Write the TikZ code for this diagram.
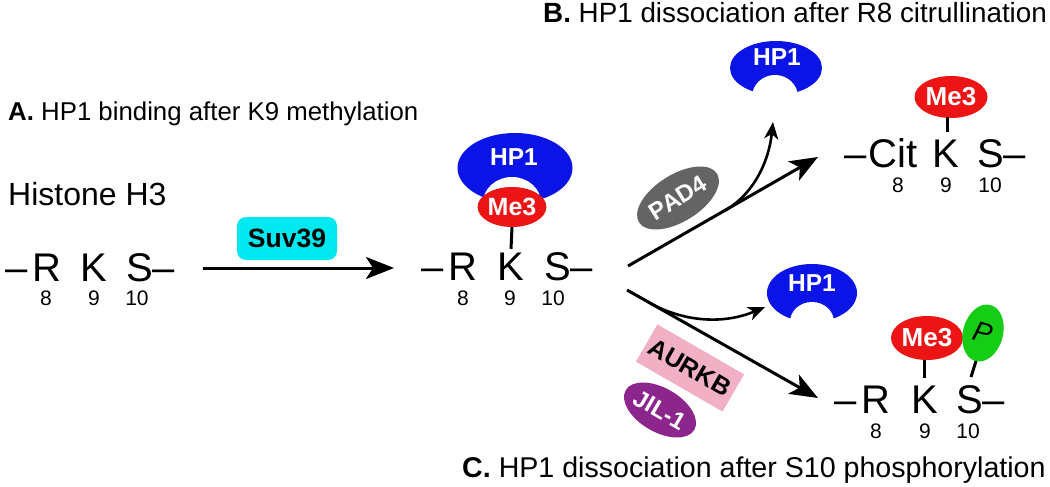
\documentclass[tikz,border=0pt]{standalone}
\usepackage{fontspec}
\setmainfont{Liberation Sans}
\usetikzlibrary{shapes.geometric,arrows.meta}
\definecolor{hpblue}{RGB}{10,20,230}
\definecolor{mered}{RGB}{236,20,20}
\definecolor{suvcyan}{RGB}{0,232,240}
\definecolor{padgray}{RGB}{100,100,100}
\definecolor{aurpink}{RGB}{242,176,196}
\definecolor{jilpurple}{RGB}{140,38,140}
\definecolor{pgreen}{RGB}{20,205,20}
\tikzset{
  res/.style={inner sep=0pt, font=\fontsize{40}{46}\selectfont},
  num/.style={inner sep=0pt, anchor=base, font=\fontsize{21}{25}\selectfont},
  title/.style={inner sep=0pt, anchor=base west, font=\fontsize{27.8}{32}\selectfont},
  hpone/.style={ellipse, fill=hpblue, inner sep=0pt},
  cutout/.style={ellipse, fill=white, inner sep=0pt},
  methyl/.style={ellipse, fill=mered, inner sep=0pt, text=white, font=\bfseries\fontsize{25}{29}\selectfont},
  wlabel/.style={text=white, inner sep=0pt, font=\bfseries\fontsize{24.5}{28}\selectfont},
  enzlabel/.style={inner sep=0pt, font=\bfseries\fontsize{25}{29}\selectfont},
  stick/.style={line width=3pt},
  bigarrow/.style={line width=3pt, -{Stealth[length=28pt,width=22pt,inset=7pt]}},
  smallarrow/.style={line width=2.6pt, -{Stealth[length=17pt,width=14pt,inset=5pt]}},
}
\begin{document}
\begin{tikzpicture}[x=1pt,y=-1pt]
\useasboundingbox (0,0) rectangle (1050,487);

% titles
\node[title, font=\fontsize{25.8}{30}\selectfont] (tA) at (8,120) {\textbf{A.} HP1 binding after K9 methylation};
\node[title] (tB) at (543,23) {\textbf{B.} HP1 dissociation after R8 citrullination};
\node[title, font=\fontsize{28.6}{33}\selectfont] (tC) at (462,477) {\textbf{C.} HP1 dissociation after S10 phosphorylation};
\node[inner sep=0pt, anchor=base west, font=\fontsize{32}{37}\selectfont] (hist) at (8,205) {Histone H3};

% ---- construct A (left)
\node[res, anchor=base east] (aR) at (61.5,281) {–\kern5pt R};
\node[res, anchor=base] (aK) at (94,281) {K};
\node[res, anchor=base west] (aS) at (126,281) {S–};
\node[num] (a8) at (46,305) {8};
\node[num] (a9) at (94,305) {9};
\node[num] (a10) at (137,305) {10};

% Suv39 arrow
\coordinate (s1) at (203,268);
\coordinate (s2) at (394,268);
\draw[bigarrow] (s1) -- (s2);
\node[enzlabel, fill=suvcyan, rounded corners=9pt, minimum width=100pt, minimum height=43pt, font=\bfseries\fontsize{26.5}{30}\selectfont] (suv) at (287,238.5) {Suv39};

% ---- construct middle (HP1 bound)
\node[res, anchor=base east] (bR) at (477.5,280) {–\kern5pt R};
\node[res, anchor=base] (bK) at (511,280) {K};
\node[res, anchor=base west] (bS) at (544,280) {S–};
\node[num] (b8) at (463,305) {8};
\node[num] (b9) at (510,305) {9};
\node[num] (b10) at (553,305) {10};
\node[hpone, minimum width=115pt, minimum height=70pt] (hpB) at (515,168) {};
\node[wlabel] (hpBt) at (514,157) {HP1};
\node[cutout, minimum width=58pt, minimum height=52pt] (cutB) at (512,203) {};
\node[methyl, minimum width=60pt, minimum height=40pt] (meB) at (512,207) {Me3};
\draw[stick] (meB.south) -- (511,249);

% ---- branch arrows
\coordinate (u0) at (628,266);
\coordinate (u1) at (818,157);
\coordinate (ub) at (725,210.5);
\coordinate (ue) at (773,122);
\draw[bigarrow] (u0) -- (u1);
\draw[smallarrow] (ub) .. controls (755,193) and (769,160) .. (ue);

\coordinate (l0) at (627,290);
\coordinate (l1) at (818,398);
\coordinate (lb) at (648,302);
\coordinate (le) at (765,307);
\draw[bigarrow] (l0) -- (l1);
\draw[smallarrow] (lb) .. controls (685,323) and (725,324) .. (le);

% enzymes
\node[ellipse, fill=padgray, rotate=32, minimum width=92pt, minimum height=47pt, inner sep=0pt, text=white, font=\bfseries\fontsize{24}{28}\selectfont] (pad) at (678,198) {PAD4};
\node[fill=aurpink, rotate=-30, minimum width=100pt, minimum height=43pt, enzlabel] (aur) at (690,368) {AURKB};
\node[ellipse, fill=jilpurple, rotate=-30, minimum width=76pt, minimum height=44pt, inner sep=0pt, text=white, font=\bfseries\fontsize{24}{28}\selectfont] (jil) at (660,410) {JIL-1};

% ---- dissociated HP1 top
\node[hpone, minimum width=92pt, minimum height=54pt] (hpT) at (776,68) {};
\node[cutout, minimum width=46pt, minimum height=44pt] (cutT) at (775,97) {};
\node[wlabel] (hpTt) at (777,57) {HP1};

% ---- construct B (citrullinated)
\node[res, anchor=base east] (cCit) at (918,167) {–\kern2pt Cit};
\node[res, anchor=base] (cK) at (946,167) {K};
\node[res, anchor=base west] (cS) at (977,167) {S–};
\node[num] (c8) at (898,192) {8};
\node[num] (c9) at (946,192) {9};
\node[num] (c10) at (990,192) {10};
\node[methyl, minimum width=73pt, minimum height=42pt, font=\bfseries\fontsize{26}{30}\selectfont] (meC) at (951,97) {Me3};
\draw[stick] (947,117) -- (947,132);

% ---- dissociated HP1 bottom
\node[hpone, minimum width=90pt, minimum height=58pt] (hpL) at (812,293) {};
\node[cutout, minimum width=44pt, minimum height=40pt] (cutL) at (812,322) {};
\node[wlabel] (hpLt) at (812,283) {HP1};

% ---- construct C (phosphorylated)
\node[res, anchor=base east] (dR) at (890.5,413) {–\kern5pt R};
\node[res, anchor=base] (dK) at (925,413) {K};
\node[res, anchor=base west] (dS) at (956,413) {S–};
\node[num] (d8) at (876,438) {8};
\node[num] (d9) at (925,438) {9};
\node[num] (d10) at (968,438) {10};
\node[methyl, minimum width=72pt, minimum height=44pt, font=\bfseries\fontsize{26}{30}\selectfont] (meD) at (927,338) {Me3};
\node[ellipse, fill=pgreen, rotate=-15, minimum width=40pt, minimum height=58pt, inner sep=0pt, font=\itshape\fontsize{28}{32}\selectfont] (ph) at (983,333) {P};
\draw[stick] (924,360) -- (924,378);
\draw[stick] (976,361) -- (971,377);
\end{tikzpicture}
\end{document}
